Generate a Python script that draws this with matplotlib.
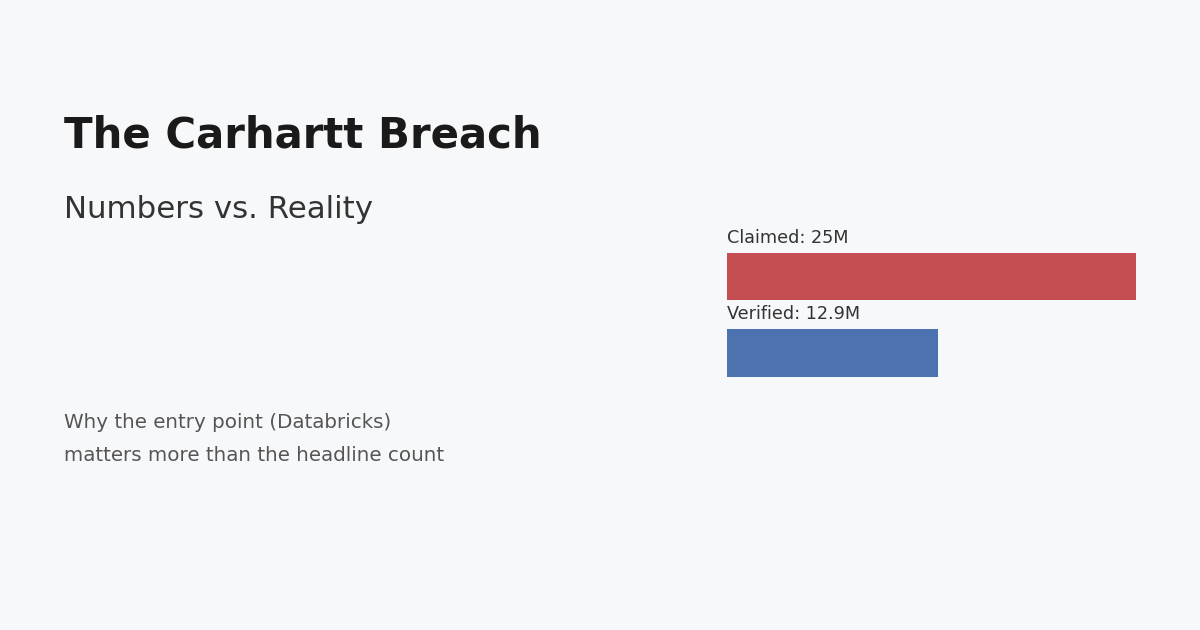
import matplotlib
matplotlib.use("Agg")
import matplotlib.pyplot as plt

# ---------------- data ----------------
labels = ["Claimed", "Verified"]
values = [25, 12.9]          # millions of records
colors = ["#C44E52", "#4C72B0"]

title = "The Carhartt Breach"
subtitle = "Numbers vs. Reality"
body = ["Why the entry point (Databricks)", "matters more than the headline count"]

W, H = 1200, 630
bg = "#F7F8FA"

fig = plt.figure(figsize=(W / 100, H / 100), dpi=100, facecolor=bg)


def px(x, y):
    # pixel coords (top-left origin) -> figure fraction
    return x / W, 1 - y / H


fig.text(*px(64, 147.5), title, fontsize=30.2, fontweight="bold",
         color="#1A1A1A", va="baseline", ha="left")
fig.text(*px(64, 218), subtitle, fontsize=22.2, color="#333333",
         va="baseline", ha="left")
for i, line in enumerate(body):
    fig.text(*px(64, 427.5 + i * 33.5), line, fontsize=14.3, color="#555555",
             va="baseline", ha="left")

# ---------------- bars ----------------
h = 47 / 76
left, right = 727, 1136
top, bottom = 253, 376.5
ax = fig.add_axes([left / W, 1 - bottom / H, (right - left) / W, (bottom - top) / H])
ax.set_facecolor("none")
pos = list(range(len(values)))
ax.barh(pos, values, height=h, color=colors, align="center")
ax.set_xlim(0, max(values))
ax.set_ylim(pos[-1] + h / 2, -h / 2)
ax.axis("off")

for p, lab, v in zip(pos, labels, values):
    ax.annotate(f"{lab}: {v:g}M", xy=(0, p - h / 2), xytext=(0, 7.5),
                textcoords="offset points", fontsize=12.7, color="#333333",
                va="baseline", ha="left", annotation_clip=False)

fig.savefig("out.png", dpi=100, facecolor=bg)
